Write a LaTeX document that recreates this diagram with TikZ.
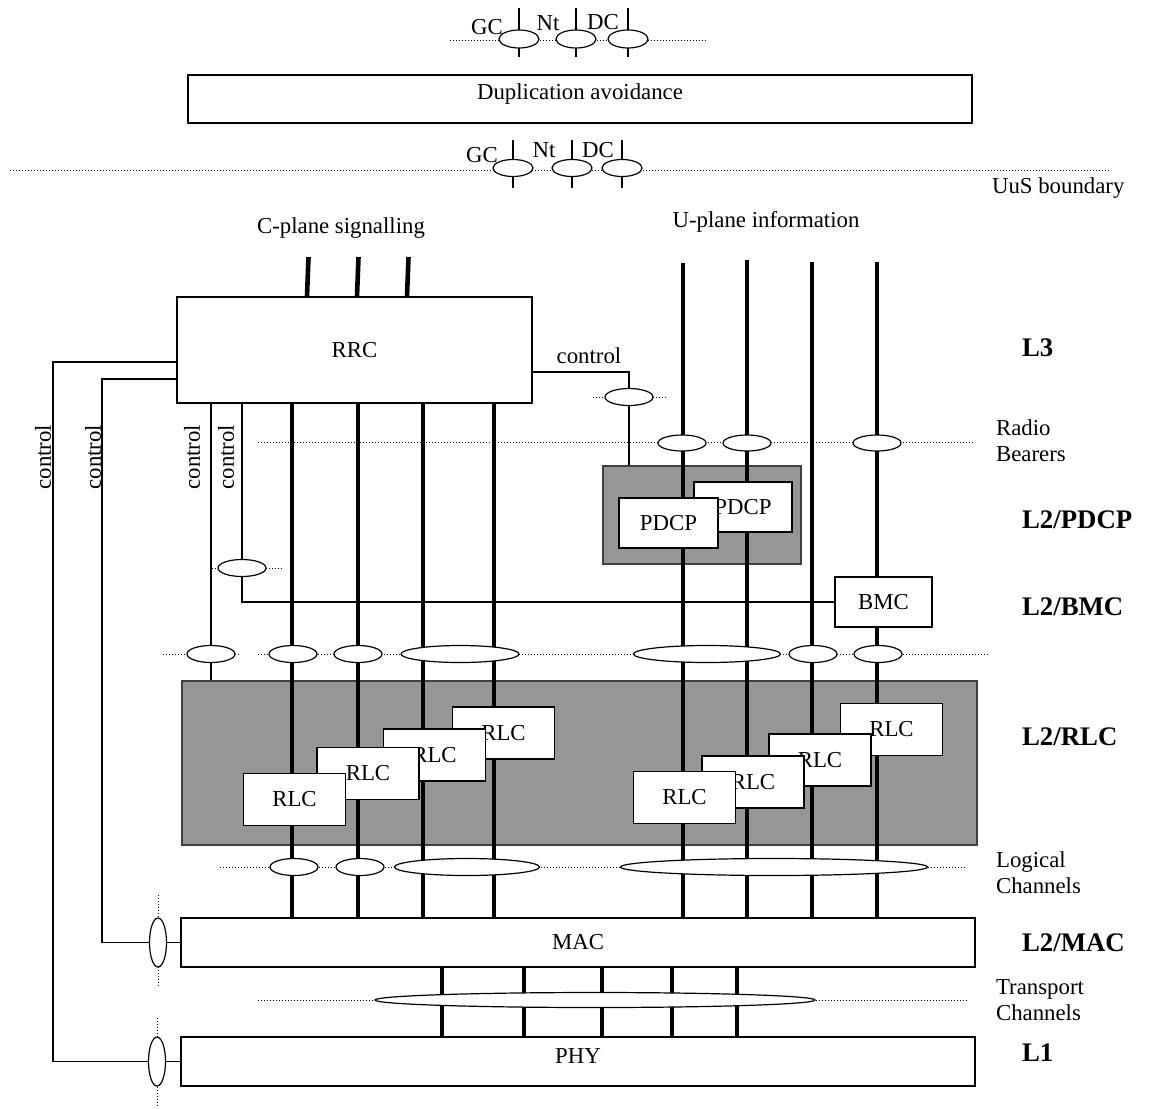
\documentclass[tikz,border=0pt]{standalone}
\usepackage{fontspec}
\setmainfont{Liberation Serif}
\usetikzlibrary{shapes.geometric, backgrounds}
\definecolor{layergray}{RGB}{150,150,150}

\begin{document}
\begin{tikzpicture}[x=0.5pt, y=-0.5pt,
    font=\fontsize{11.4}{13}\selectfont,
    box/.style={draw, line width=0.6pt, fill=white, inner sep=0pt},
    layerbox/.style={draw=black!75, line width=0.6pt, fill=layergray, inner sep=0pt},
    sap/.style={ellipse, draw, line width=0.6pt, fill=white, inner sep=0pt, minimum width=24pt, minimum height=8.5pt},
    chan/.style={line width=2.3pt},
    ctrl/.style={line width=0.6pt},
    dots/.style={densely dotted, line width=0.5pt},
    layerlbl/.style={anchor=west, font=\fontsize{13.4}{15}\selectfont\bfseries},
    note/.style={anchor=west, align=left}]
    \useasboundingbox (0,0) rectangle (1149,1108);

    % Duplication avoidance with its SAPs
    \node[box, minimum width=392pt, minimum height=24pt, text depth=7.5pt] (dup) at (580,99) {Duplication avoidance};
    \node[sap, minimum width=20pt, minimum height=9pt] (gcUp) at (519,39) {};
    \node[sap, minimum width=20pt, minimum height=9pt] (ntUp) at (576,39) {};
    \node[sap, minimum width=20pt, minimum height=9pt] (dcUp) at (628,39) {};
    \node (gcUpTxt) at (487,27) {GC};
    \node (ntUpTxt) at (548,23) {Nt};
    \node (dcUpTxt) at (603,22) {DC};

    % UuS boundary
    \node[sap, minimum width=20pt] (gcUu) at (513,168) {};
    \node[sap, minimum width=20pt] (ntUu) at (572,168) {};
    \node[sap, minimum width=20pt] (dcUu) at (622,168) {};
    \node (gcUuTxt) at (482,155) {GC};
    \node (ntUuTxt) at (544,150) {Nt};
    \node (dcUuTxt) at (598,150) {DC};
    \node[note] (uus) at (985,188) {UuS boundary};

    \node (cplane) at (341,228) {C-plane signalling};
    \node (uplane) at (766,222) {U-plane information};

    % L3
    \node[box, minimum width=177.5pt, minimum height=53pt] (rrc) at (354.5,350) {RRC};
    \node (ctlTxt) at (589,356) {control};
    \node[sap] (pdcpCtl) at (629,397) {};
    \foreach \n/\x in {rbA/682, rbB/747, rbC/877}
        \node[sap, minimum height=8pt] (\n) at (\x,443) {};
    \foreach \x in {43,93,192,226}
        \node[rotate=90] (ctl\x) at (\x,457) {control};

    % PDCP and BMC
    \node[box, minimum width=49pt, minimum height=25pt] (pdcpB) at (743,507) {PDCP};
    \node[box, minimum width=49.5pt, minimum height=25pt] (pdcpA) at (668.5,523) {PDCP};
    \node[box, minimum width=48.5pt, minimum height=25pt] (bmc) at (883.5,602) {BMC};
    \node[sap] (bmcCtl) at (242,568) {};

    % SAPs above RLC
    \node[sap] (rlcCtl) at (211,654) {};
    \node[sap] (rlcSapA) at (293,654) {};
    \node[sap] (rlcSapB) at (358,654) {};
    \node[sap, minimum width=59pt] (rlcSapC) at (460,654) {};
    \node[sap, minimum width=73.5pt] (rlcSapD) at (707,654) {};
    \node[sap] (rlcSapE) at (813,654) {};
    \node[sap] (rlcSapF) at (878,654) {};

    % RLC entities, back to front
    \foreach \n/\x/\y in {rlcD/503.5/733, rlcC/434.5/755, rlcB/368/773.5, rlcA/294.5/799.5,
                         rlcH/891.5/729.5, rlcG/820/760, rlcF/753/782, rlcE/684.5/797.5}
        \node[box, minimum width=51pt, minimum height=26pt] (\n) at (\x,\y) {RLC};

    % Logical channels
    \node[sap] (logSapA) at (294,867) {};
    \node[sap] (logSapB) at (360,867) {};
    \node[sap, minimum width=72.5pt] (logSapC) at (467,867) {};
    \node[sap, minimum width=153.5pt] (logSapD) at (774,867) {};

    % MAC and PHY
    \node[box, minimum width=397pt, minimum height=24.5pt] (mac) at (578,942.5) {MAC};
    \node[sap, minimum width=8.5pt, minimum height=24.5pt] (macSap) at (158,942.5) {};
    \node[sap, minimum width=220pt, minimum height=7.5pt] (trSap) at (595,1000) {};
    \node[box, minimum width=397pt, minimum height=24.5pt, text depth=5pt] (phy) at (578,1061.5) {PHY};
    \node[sap, minimum width=8.5pt, minimum height=24.5pt] (phySap) at (157,1061.5) {};

    % layer names
    \node[layerlbl] (lblL3) at (1015,348) {L3};
    \node[note] (lblRb) at (989,441) {Radio\\Bearers};
    \node[layerlbl] (lblPdcp) at (1015,520) {L2/PDCP};
    \node[layerlbl] (lblBmc) at (1015,607) {L2/BMC};
    \node[layerlbl] (lblRlc) at (1015,737) {L2/RLC};
    \node[note] (lblLog) at (989,873) {Logical\\Channels};
    \node[layerlbl] (lblMac) at (1015,943) {L2/MAC};
    \node[note] (lblTr) at (989,1000) {Transport\\Channels};
    \node[layerlbl] (lblL1) at (1015,1053) {L1};

    \begin{pgfonlayer}{background}
        \node[layerbox, minimum width=99pt, minimum height=49pt] (pdcpLayer) at (702,515) {};
        \node[layerbox, minimum width=397.5pt, minimum height=82pt] (rlcLayer) at (579.5,763) {};

        % SAP lines
        \draw[dots] (450,40) -- (706,40);
        \draw[dots] (10,170) -- (1110,170);
        \draw[dots] (593,397) -- (667,397);
        \draw[dots] (258,442) -- (975,442);
        \draw[dots] (212,568) -- (282,568);
        \draw[dots] (163,654) -- (240,654);
        \draw[dots] (258,654) -- (988,654);
        \draw[dots] (220,867) -- (967,867);
        \draw[dots] (258,1000) -- (967,1000);
        \draw[dots] (macSap |- 0,895) -- (macSap |- 0,988);
        \draw[dots] (phySap |- 0,1018) -- (phySap |- 0,1108);

        \foreach \n in {gcUp, ntUp, dcUp}
            \draw[ctrl] (\n |- 0,8) -- (\n |- 0,57);
        \foreach \n in {gcUu, ntUu, dcUu}
            \draw[ctrl] (\n |- 0,140) -- (\n |- 0,188);

        % channels
        \foreach \x in {307,357,407}
            \draw[chan] (\x+1.5,257) -- (\x,0 |- rrc.north);
        \foreach \x in {292,358,423,494}
            \draw[chan] (\x,0 |- rrc.south) -- (\x,0 |- mac.north);
        \foreach \x/\y in {683/263,747/260,812/262,877/262}
            \draw[chan] (\x,\y) -- (\x,0 |- mac.north);
        \foreach \x in {442,524,602,672,737}
            \draw[chan] (\x,0 |- mac.south) -- (\x,0 |- phy.north);

        % control
        \draw[ctrl] (rrc.east |- 0,372) -| (pdcpCtl |- pdcpLayer.north);
        \draw[ctrl] (rlcCtl |- rrc.south) -- (rlcCtl |- rlcLayer.north);
        \draw[ctrl] (bmcCtl |- rrc.south) |- (bmc.west);
        \draw[ctrl] (rrc.west |- 0,362) -- (53,362) |- (phySap.west);
        \draw[ctrl] (rrc.west |- 0,379) -- (102,379) |- (macSap.west);
        \draw[ctrl] (macSap.east) -- (mac.west);
        \draw[ctrl] (phySap.east) -- (phy.west);
    \end{pgfonlayer}
\end{tikzpicture}
\end{document}
